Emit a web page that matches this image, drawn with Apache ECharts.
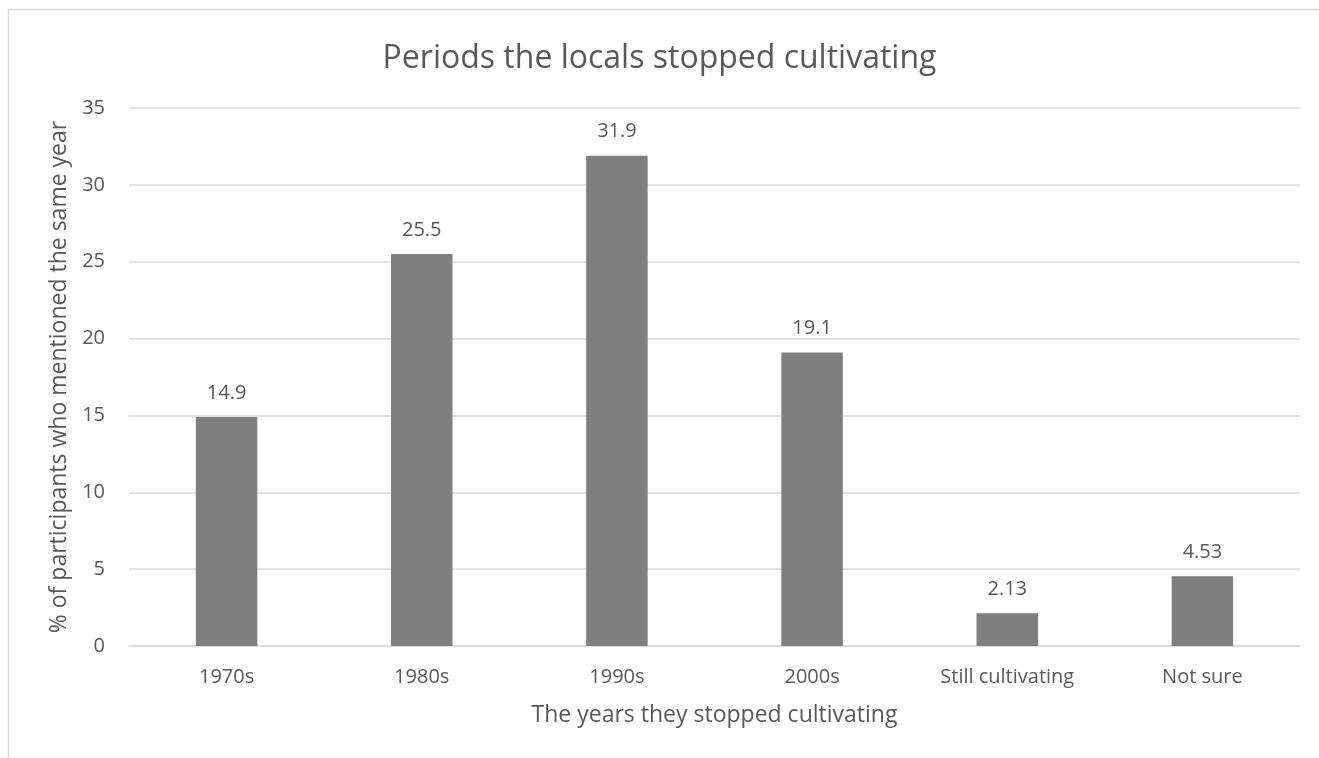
<!DOCTYPE html>
<html>
<head>
<meta charset="utf-8">
<script src="https://cdn.jsdelivr.net/npm/echarts@6/dist/echarts.min.js"></script>
<style>
  html, body { margin: 0; padding: 0; background: #fff; }
  #chart { width: 1319px; height: 758px; }
</style>
</head>
<body>
<div id="chart"></div>
<script>
const categories = ['1970s', '1980s', '1990s', '2000s', 'Still cultivating', 'Not sure'];
const shares = [14.9, 25.5, 31.9, 19.1, 2.13, 4.53];
const yTicks = [0, 5, 10, 15, 20, 25, 30, 35];

const FONT = '"Open Sans", "Noto Sans", sans-serif';
const TEXT = '#595959';

const chart = echarts.init(document.getElementById('chart'));
chart.setOption({
  backgroundColor: '#fff',
  animation: false,
  textStyle: { fontFamily: FONT },
  title: {
    text: 'Periods the locals stopped cultivating',
    left: 'center',
    top: 38,
    textStyle: { fontFamily: FONT, fontSize: 32, fontWeight: 'normal', color: TEXT }
  },
  graphic: [{
    type: 'rect',
    shape: { x: 8.5, y: 9.5, width: 1320, height: 780 },
    style: { fill: 'none', stroke: '#d9d9d9', lineWidth: 1.5 },
    silent: true
  }],
  grid: { left: 129, right: 19, top: 108, bottom: 112 },
  xAxis: {
    type: 'category',
    data: categories,
    name: 'The years they stopped cultivating',
    nameLocation: 'middle',
    nameGap: 58,
    nameTextStyle: { fontFamily: FONT, fontSize: 23, color: TEXT },
    axisLine: { show: true, lineStyle: { color: '#d9d9d9', width: 1.5 } },
    axisTick: { show: false },
    axisLabel: { fontFamily: FONT, fontSize: 20, color: TEXT, margin: 21 }
  },
  yAxis: {
    type: 'value',
    min: yTicks[0],
    max: yTicks[yTicks.length - 1],
    interval: 5,
    name: '% of participants who mentioned the same year',
    nameLocation: 'middle',
    nameGap: 55,
    nameTextStyle: { fontFamily: FONT, fontSize: 23, color: TEXT },
    axisLine: { show: false },
    axisTick: { show: false },
    axisLabel: { fontFamily: FONT, fontSize: 20, color: TEXT, margin: 24 },
    splitLine: { lineStyle: { color: '#d9d9d9', width: 1.5 } }
  },
  series: [{
    type: 'bar',
    data: shares,
    barWidth: '31.5%',
    itemStyle: { color: '#7f7f7f' },
    label: {
      show: true,
      position: 'top',
      distance: 14,
      fontFamily: FONT,
      fontSize: 20,
      color: TEXT
    }
  }]
});
</script>
</body>
</html>
